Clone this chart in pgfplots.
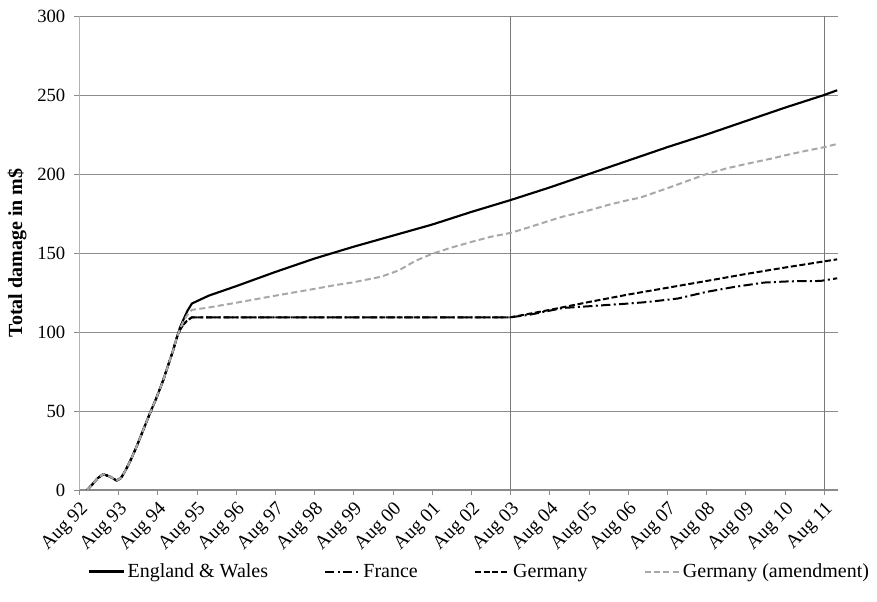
\documentclass[border=0pt]{standalone}
\usepackage{pgfplots}
\pgfplotsset{compat=1.18}
\usepackage{fontspec}
\setmainfont{Liberation Serif}
\usetikzlibrary{calc}
\definecolor{gridgray}{RGB}{140,140,140}
\definecolor{amendgray}{RGB}{168,168,168}
\definecolor{vgray}{RGB}{120,120,120}
\begin{document}
\begin{tikzpicture}
\begin{axis}[
  name=ax,
  scale only axis, width=569.25pt, height=355.5pt,
  xmin=0, xmax=19.36, ymin=0, ymax=300,
  axis x line*=bottom, axis y line*=left,
  axis line style={-},
  x axis line style={gridgray, line width=0.75pt},
  y axis line style={black!30, line width=0.75pt},
  xtick={0,1,...,19},
  xticklabels={Aug 92,Aug 93,Aug 94,Aug 95,Aug 96,Aug 97,Aug 98,Aug 99,Aug 00,Aug 01,Aug 02,Aug 03,Aug 04,Aug 05,Aug 06,Aug 07,Aug 08,Aug 09,Aug 10,Aug 11},
  ytick={0,50,...,300},
  ymajorgrids, major grid style={gridgray, line width=0.6pt},
  tick align=outside, major tick length=4pt,
  tick style={gridgray, line width=0.6pt},
  xticklabel style={rotate=45, anchor=north east, inner sep=2.5pt, font=\fontsize{14.5}{16}\selectfont},
  yticklabel style={font=\fontsize{14}{16}\selectfont, xshift=-3pt},
  /pgf/number format/assume math mode=true,
  ylabel={Total damage in m\$},
  every axis y label/.style={at={(axis description cs:-0.082,0.5)}, rotate=90, anchor=center, font=\fontsize{15}{18}\selectfont\bfseries},
  legend columns=4,
  legend cell align=left,
  legend style={draw=none, fill=none, font=\fontsize{15}{18}\selectfont, at={(0.5277,-0.172)}, anchor=center,
    /tikz/every even column/.append style={column sep=40pt},
    nodes={inner xsep=2pt}},
  legend image code/.code={\draw[#1] (0pt,0pt) -- (26pt,0pt);},
]
\addplot[vgray, line width=0.75pt, forget plot] coordinates {(11,0) (11,300)};
\addplot[vgray, line width=0.75pt, forget plot] coordinates {(19,0) (19,300)};

\addplot[black, line width=1.6pt] coordinates {
(0.20,0) (0.33,3.5) (0.47,7.5) (0.61,10) (0.78,8.5) (0.95,6) (1.06,7.5) (1.18,12.5) (1.32,19.5) (1.46,27.4) (1.63,38) (1.80,48.5) (1.97,58.5) (2.14,69.5) (2.28,80) (2.40,89) (2.48,96) (2.57,103) (2.65,107.6) (2.76,113.5) (2.87,118) (3.3,123) (4,129) (5,138) (6,146.5) (7,154) (8,161) (9,168) (10,176) (11,183.5) (12,191.5) (13,200) (14,208.5) (15,217) (16,225) (17,233.5) (18,242) (19,250) (19.33,253)
};
\addlegendentry{England \& Wales}

\addplot[black, line width=1.5pt, dash pattern=on 7pt off 2.5pt on 1.5pt off 2.5pt] coordinates {
(0.20,0) (0.33,3.5) (0.47,7.5) (0.61,10) (0.78,8.5) (0.95,6) (1.06,7.5) (1.18,12.5) (1.32,19.5) (1.46,27.4) (1.63,38) (1.80,48.5) (1.97,58.5) (2.14,69.5) (2.28,80) (2.40,89) (2.48,96) (2.57,101.5) (2.65,104.5) (2.74,107) (2.87,109.3) (11,109.3) (11.5,111) (12,113.5) (12.33,115.2) (13,116.3) (13.4,117) (14,118) (14.5,119) (15.27,121.2) (16,125.4) (16.7,128.5) (17.47,131.3) (18.15,132.1) (18.9,132.3) (19.33,134)
};
\addlegendentry{France}

\addplot[black, line width=1.5pt, dash pattern=on 4.5pt off 2pt] coordinates {
(0.20,0) (0.33,3.5) (0.47,7.5) (0.61,10) (0.78,8.5) (0.95,6) (1.06,7.5) (1.18,12.5) (1.32,19.5) (1.46,27.4) (1.63,38) (1.80,48.5) (1.97,58.5) (2.14,69.5) (2.28,80) (2.40,89) (2.48,96) (2.57,101.5) (2.65,104.5) (2.74,107) (2.87,109.3) (11,109.3) (12,114) (13,119) (14,123.7) (15,128) (16,132.3) (17,136.7) (18,140.8) (19,144.7) (19.33,146)
};
\addlegendentry{Germany}

\addplot[amendgray, line width=1.5pt, dash pattern=on 4.5pt off 2.5pt] coordinates {
(0.20,0) (0.33,3.5) (0.47,7.5) (0.61,10) (0.78,8.5) (0.95,6) (1.06,7.5) (1.18,12.5) (1.32,19.5) (1.46,27.4) (1.63,38) (1.80,48.5) (1.97,58.5) (2.14,69.5) (2.28,80) (2.40,89) (2.48,96) (2.57,102) (2.65,106.5) (2.76,111) (2.87,114) (3.3,115.5) (4,118.5) (5,123) (6,127.3) (6.44,129.3) (7,131.5) (7.7,135) (8.15,139) (8.57,145) (9,149.5) (9.5,153.5) (10,157) (10.5,160.3) (11,162.7) (11.5,166.5) (12,170.5) (12.33,173) (13,177) (13.5,180.5) (14,183.5) (14.3,185) (15,191) (15.5,195.5) (16,200) (16.5,203.5) (17,206.3) (17.7,210) (18,211.8) (18.5,214.5) (19,217) (19.33,219)
};
\addlegendentry{Germany (amendment)}
\end{axis}
\path ($(ax.south west)+(-59.5pt,-84pt)$) rectangle ($(ax.north east)+(29pt,12pt)$);
\end{tikzpicture}
\end{document}
